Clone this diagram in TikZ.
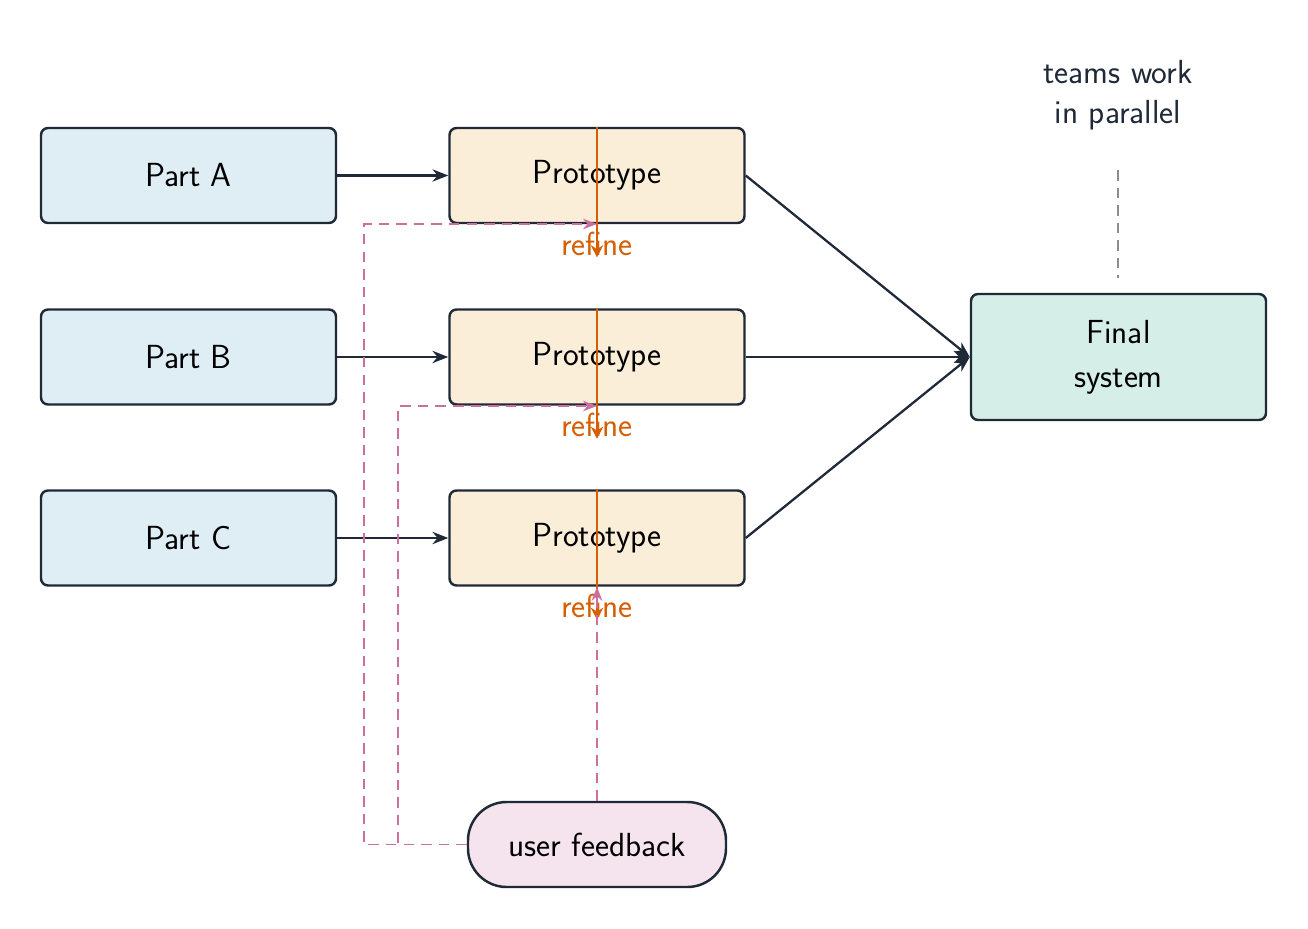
\documentclass[tikz,border=0pt]{standalone}
\usetikzlibrary{arrows.meta}
\definecolor{ink}{HTML}{1F2937}
\definecolor{partc}{HTML}{DFEEF5}
\definecolor{protoc}{HTML}{FAEED8}
\definecolor{finalc}{HTML}{D5EEE7}
\definecolor{fbc}{HTML}{F5E4EE}
\definecolor{pinkc}{HTML}{CC6E9E}
\definecolor{orangec}{HTML}{D55E00}
\tikzset{
 box/.style={draw=ink,line width=1.4pt,rounded corners=4pt,minimum width=295*0.02cm,minimum height=95*0.02cm,inner sep=0pt,align=center},
 flow/.style={draw=ink,line width=1.3pt,-{Stealth[length=9pt,width=7pt]}},
 fb/.style={draw=pinkc,line width=1.1pt,dash pattern=on 6pt off 4pt,-{Stealth[length=8pt,width=6pt]}},
 ref/.style={draw=orangec,line width=1.6pt,-{Stealth[length=7pt,width=7pt]}},
}
\begin{document}
\begin{tikzpicture}[x=0.02cm,y=-0.02cm,font=\sffamily\fontsize{19}{23}\selectfont]
\useasboundingbox (0,0) rectangle (1308,929);
\node[box,fill=partc] (pa) at (188.5,175.5) {Part A};
\node[box,fill=partc] (pb) at (188.5,357) {Part B};
\node[box,fill=partc] (pc) at (188.5,538) {Part C};
\node[box,fill=protoc] (xa) at (597,175.5) {Prototype};
\node[box,fill=protoc] (xb) at (597,357) {Prototype};
\node[box,fill=protoc] (xc) at (597,538) {Prototype};
\node[box,fill=finalc,minimum height=126*0.02cm] (fin) at (1118.5,357) {Final\\[2pt]system};
\node[box,fill=fbc,minimum width=258*0.02cm,minimum height=85*0.02cm,rounded corners=22pt] (fb) at (597,844.5) {user feedback};
\node[text=ink,align=center] (tw) at (1118,95) {teams work\\in parallel};
\coordinate (twa) at (1118,170);
\coordinate (twb) at (1118,278);
\draw[gray!90,line width=1.1pt,dash pattern=on 6pt off 4pt] (twa) -- (twb);
\foreach \p/\x in {pa/xa,pb/xb,pc/xc}{
 \draw[flow] (\p.east) -- (\x.west);
 \draw[flow] (\x.east) -- (fin.west);
 \node[text=orangec,inner sep=1pt] (r\x) at ([yshift=-68*0.02cm]\x.center) {refine};
 \draw[ref] (\x.north) -- (r\x.south);
}
\coordinate (ta) at (597,224);
\coordinate (tb) at (597,406);
\draw[fb] (fb.west) -- (364,844.5) -- (364,224) -- (ta);
\draw[fb] (fb.west) -- (398,844.5) -- (398,406) -- (tb);
\draw[fb] (fb.north) -- (xc.south);
\end{tikzpicture}
\end{document}
